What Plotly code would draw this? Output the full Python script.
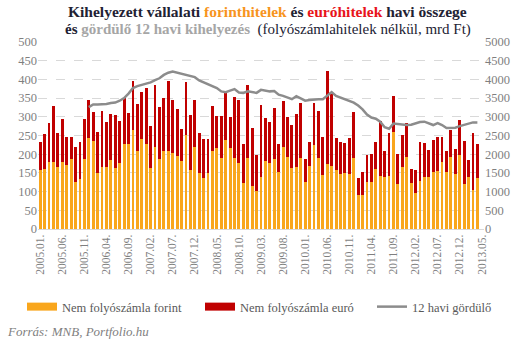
import plotly.graph_objects as go

# ---- data ----
years = list(range(2005, 2014))
months = [f"{y}.{m:02d}." for y in years for m in range(1, 13)]
months = months[:months.index("2013.05.") + 1]  # 101 categories

forint = [157,160,179,179,165,179,171,187,125,134,187,243,235,149,165,165,184,163,176,
          228,228,266,209,241,228,164,220,188,209,209,204,196,
          182,251,157,219,149,136,
          149,208,216,190,238,216,190,176,123,190,114,101,139,182,176,187,152,219,192,
          163,165,190,125,168,225,190,144,174,168,157,147,149,147,190,90,90,125,125,
          160,141,139,141,259,120,165,192,123,96,128,139,139,152,155,179,152,192,147,198,120,139,104,136]

euro = [76,94,105,150,92,115,75,59,94,99,107,102,78,110,151,121,124,142,113,
        123,83,131,124,124,148,112,164,139,140,188,142,126,
        85,143,148,126,108,105,
        92,121,86,112,126,84,163,169,104,196,156,97,193,115,110,137,75,124,108,
        115,143,147,62,65,112,126,102,249,193,86,86,81,96,123,46,62,73,75,
        73,149,69,116,97,80,86,92,37,61,105,91,72,86,91,67,56,73,67,94,115,45,153,91]

rolling = [None]*11 + [
    3260,3330,3330,3330,3340,3370,3380,3430,3500,3620,3770,3820,3850,3880,3920,3980,
    4030,4120,4180,4210,4180,4140,4120,4090,4060,3970,3920,3860,3800,3770,3680,3660,
    3700,3740,3650,3640,3680,3660,3640,3720,3690,3680,3690,3590,3560,3520,3470,3550,
    3500,3430,3450,3470,3470,3470,3560,3660,3560,3520,3470,3420,3380,3300,3200,3060,
    2980,2950,2870,2720,2680,2820,2800,2780,2780,2790,2830,2860,2870,2820,2780,2830,
    2780,2700,2710,2710,2750,2790,2830,2850,2850]

tick_labels = months[::5]
left_ticks = list(range(0, 501, 50))
right_ticks = list(range(0, 5001, 500))

# ---- style ----
FONT = "Liberation Serif"
ORANGE = "#F9A61C"
RED = "#C00000"
GRAY_LINE = "#8C8C8C"
TICK_COLOR = "#7F7F7F"

n = len(forint)
fig = go.Figure()
fig.add_trace(go.Bar(x=months[:n], y=forint, name="Nem folyószámla forint",
                     marker=dict(color=ORANGE, line=dict(width=0)), showlegend=False))
fig.add_trace(go.Bar(x=months[:n], y=euro, name="Nem folyószámla euró",
                     marker=dict(color=RED, line=dict(width=0)), showlegend=False))
fig.add_trace(go.Scatter(x=months[:n], y=rolling, name="12 havi gördülő", yaxis="y2",
                         mode="lines", line=dict(color=GRAY_LINE, width=2.5),
                         legend="legend3"))
# legend-only entries with wide rectangular swatches (like the original)
fig.add_trace(go.Scatter(x=[None], y=[None], name="Nem folyószámla forint", mode="lines",
                         line=dict(color=ORANGE, width=8), legend="legend"))
fig.add_trace(go.Scatter(x=[None], y=[None], name="Nem folyószámla euró", mode="lines",
                         line=dict(color=RED, width=8), legend="legend2"))

def leg(xpix):
    return dict(orientation="h", xref="container", yref="container",
                x=xpix/531, y=1 - 292/342, xanchor="left", yanchor="top",
                font=dict(family=FONT, size=12.5, color="#595959"),
                itemwidth=30, bgcolor="rgba(0,0,0,0)")

fig.update_layout(
    width=531, height=342,
    margin=dict(l=38, r=47, t=42, b=113),
    barmode="stack", bargap=0.35,
    paper_bgcolor="white", plot_bgcolor="white",
    font=dict(family=FONT, size=12, color=TICK_COLOR),
    xaxis=dict(type="category", categoryorder="array", categoryarray=months,
               range=[-0.5, len(months) - 0.5],
               tickmode="array", tickvals=tick_labels, ticktext=tick_labels,
               tickangle=-90, showgrid=False, showline=True, linecolor="#D9D9D9",
               linewidth=1, ticks="", tickfont=dict(size=11.5, color=TICK_COLOR)),
    yaxis=dict(range=[0, 500], tickvals=left_ticks, showgrid=True,
               gridcolor="#D9D9D9", griddash="dash", gridwidth=1, zeroline=False,
               ticks="", tickfont=dict(size=12.5, color=TICK_COLOR)),
    yaxis2=dict(range=[0, 5000], tickvals=right_ticks, overlaying="y", side="right",
                showgrid=False, zeroline=False, ticks="",
                tickfont=dict(size=12.5, color=TICK_COLOR)),
    legend=leg(22),
    legend2=leg(200),
    legend3=leg(372),
    showlegend=True,
)

fig.add_annotation(
    text=("<b>Kihelyezett vállalati <span style='color:#F7941D'>forinthitelek</span> és "
          "<span style='color:#E8141B'>euróhitelek</span> havi összege</b>"),
    xref="paper", yref="paper", x=0.515, y=1, xanchor="center", yanchor="bottom",
    yshift=20, showarrow=False, font=dict(family=FONT, size=15.5, color="#222233"))
fig.add_annotation(
    text=("<b>és <span style='color:#A6A6A6'>gördülő 12 havi kihelyezés</span></b>  "
          "(folyószámlahitelek nélkül, mrd Ft)"),
    xref="paper", yref="paper", x=0.515, y=1, xanchor="center", yanchor="bottom",
    yshift=2, showarrow=False, font=dict(family=FONT, size=15, color="#222233"))
fig.add_annotation(
    text="<i>Forrás: MNB, Portfolio.hu</i>",
    xref="paper", yref="paper", x=-33/446, y=0, xanchor="left", yanchor="top",
    yshift=-93, showarrow=False, font=dict(family=FONT, size=13, color="#7F7F7F"))

fig.write_html("out.html")
